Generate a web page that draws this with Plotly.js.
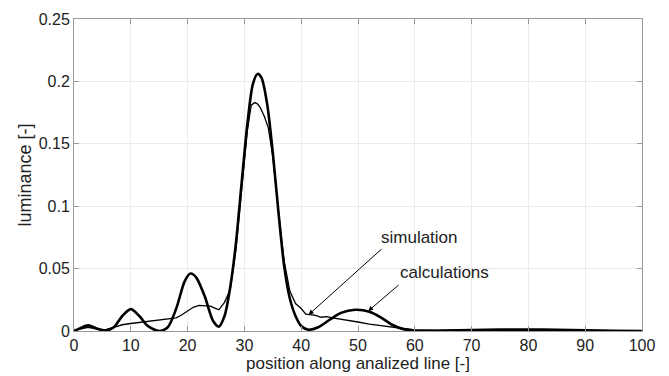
<!DOCTYPE html>
<html>
<head>
<meta charset="utf-8">
<script src="https://cdn.plot.ly/plotly-3.0.1.min.js"></script>
<style>html,body{margin:0;padding:0;background:#fff;}#chart{width:669px;height:376px;}</style>
</head>
<body>
<div id="chart"></div>
<script>
const calcX = [0,1,2.5,4,5.5,7,8.5,10,11.5,13,15,16.5,18,19.5,20.5,21.5,23,24.5,25.5,26.5,27.5,28.5,29.5,30.5,31.5,32.3,33,34,35,36,37,38,39,40,41.3,43,45,47,49.5,52,54,56,58,60,65,70,75,80,85,90,95,100];
const calcY = [0,0.002,0.0045,0.002,0.0003,0.003,0.012,0.0175,0.012,0.004,0,0.003,0.018,0.040,0.046,0.043,0.028,0.008,0.0035,0.012,0.035,0.07,0.118,0.165,0.198,0.206,0.203,0.182,0.143,0.095,0.052,0.026,0.012,0.004,0.001,0.003,0.009,0.0145,0.017,0.0155,0.011,0.005,0.0015,0.0003,0.0003,0.0008,0.0012,0.0012,0.001,0.0005,0.0002,0];

const simX = [0,1,2.5,4,5.5,7,8.5,10,12,14,16,18,19,20,21,22,23,24,25,25.5,26.5,27.5,28.5,29.5,30.5,31.2,31.8,32.3,32.8,33.5,34.2,35,36,37,38,39,40,40.8,41.5,42.5,43.5,44.5,45.5,47,48.5,50,52,54,56,58,60,65,70,80,90,100];
const simY = [0,0.0015,0.003,0.0015,0.001,0.003,0.005,0.006,0.007,0.0085,0.0095,0.0105,0.013,0.016,0.019,0.0205,0.0205,0.020,0.018,0.017,0.023,0.033,0.065,0.115,0.16,0.181,0.183,0.182,0.179,0.172,0.163,0.14,0.095,0.056,0.032,0.022,0.018,0.0135,0.013,0.0125,0.011,0.0115,0.0105,0.0095,0.008,0.0072,0.0055,0.0042,0.003,0.0015,0.0008,0.0005,0.0005,0.0008,0.0004,0];

const xTicks = [0,10,20,30,40,50,60,70,80,90,100];
const yTicks = [0,0.05,0.1,0.15,0.2,0.25];
const yTickText = ['0','0.05','0.1','0.15','0.2','0.25'];

const FONT = '"Liberation Sans", Arial, sans-serif';

const traces = [
  {x: simX, y: simY, mode: 'lines', line: {color: '#000', width: 1.3}, name: 'simulation'},
  {x: calcX, y: calcY, mode: 'lines', line: {color: '#000', width: 2.6, shape: 'spline', smoothing: 0.8}, name: 'calculations'}
];

const layout = {
  width: 669, height: 376,
  margin: {l: 74, r: 27, t: 19, b: 45},
  paper_bgcolor: '#fff', plot_bgcolor: '#fff',
  showlegend: false,
  font: {family: FONT, size: 16, color: '#222'},
  xaxis: {
    range: [0, 100], tickvals: xTicks, ticktext: xTicks.map(String),
    showgrid: true, gridcolor: '#ebebeb', gridwidth: 1,
    zeroline: false, showline: true, linecolor: '#999', linewidth: 1, mirror: 'ticks',
    ticks: 'inside', ticklen: 5, tickcolor: '#999',
    tickfont: {family: FONT, size: 16, color: '#222'},
    title: {text: 'position along analized line [-]', font: {family: FONT, size: 17, color: '#222'}, standoff: 2}
  },
  yaxis: {
    range: [0, 0.25], tickvals: yTicks, ticktext: yTickText,
    showgrid: true, gridcolor: '#ebebeb', gridwidth: 1,
    zeroline: false, showline: true, linecolor: '#999', linewidth: 1, mirror: 'ticks',
    ticks: 'inside', ticklen: 5, tickcolor: '#999',
    tickfont: {family: FONT, size: 16, color: '#222'},
    title: {text: 'luminance [-]', font: {family: FONT, size: 18, color: '#222'}, standoff: 2}
  },
  annotations: [
    {x: 41.3, y: 0.013, ax: 54.4, ay: 0.0667, axref: 'x', ayref: 'y', xref: 'x', yref: 'y',
     text: ' ', showarrow: true, arrowhead: 2, arrowsize: 1, arrowwidth: 1, arrowcolor: '#000', font: {size: 1}},
    {x: 51.8, y: 0.016, ax: 57.4, ay: 0.0378, axref: 'x', ayref: 'y', xref: 'x', yref: 'y',
     text: ' ', showarrow: true, arrowhead: 2, arrowsize: 1, arrowwidth: 1, arrowcolor: '#000', font: {size: 1}},
    {x: 60.9, y: 0.0748, xref: 'x', yref: 'y', text: 'simulation', showarrow: false,
     font: {family: FONT, size: 17, color: '#222'}},
    {x: 65.2, y: 0.0466, xref: 'x', yref: 'y', text: 'calculations', showarrow: false,
     font: {family: FONT, size: 17, color: '#222'}}
  ]
};

Plotly.newPlot('chart', traces, layout, {displayModeBar: false, staticPlot: true});
</script>
</body>
</html>
